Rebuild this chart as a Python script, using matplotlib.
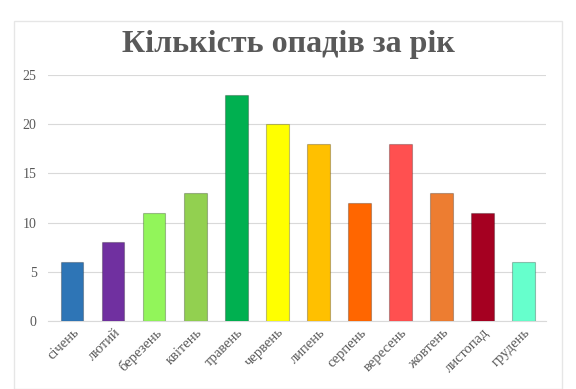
import matplotlib.pyplot as plt
from matplotlib.patches import Rectangle

months = ['січень', 'лютий', 'березень', 'квітень', 'травень', 'червень',
          'липень', 'серпень', 'вересень', 'жовтень', 'листопад', 'грудень']
values = [6, 8, 11, 13, 23, 20, 18, 12, 18, 13, 11, 6]
colors = ['#2E75B6', '#7030A0', '#92F55A', '#92D050', '#00B050', '#FFFF00',
          '#FFC000', '#FF6600', '#FF5050', '#ED7D31', '#A50021', '#66FFCC']
yticks = [0, 5, 10, 15, 20, 25]

plt.rcParams['font.family'] = ['Liberation Serif', 'DejaVu Serif']

fig = plt.figure(figsize=(5.76, 3.89), dpi=100)
# рамка навколо діаграми
fig.patches.append(Rectangle((14 / 576, 0), 548 / 576, 1 - 21 / 389,
                             transform=fig.transFigure, fill=False,
                             edgecolor='#E6E6E6', linewidth=1))

ax = fig.add_axes([0.083, 0.175, 0.865, 0.632])
x = range(len(months))
bars = ax.bar(x, values, width=0.54, color=colors, linewidth=0.8, zorder=3)
for p in bars:
    p.set_edgecolor((0, 0, 0, 0.25))

ax.set_xlim(-0.6, 11.55)
ax.set_ylim(0, 25)
ax.set_yticks(yticks)
ax.yaxis.grid(True, color='#D9D9D9', linewidth=0.8, zorder=0)
ax.set_axisbelow(True)
for s in ['top', 'right', 'left']:
    ax.spines[s].set_visible(False)
ax.spines['bottom'].set_color('#D9D9D9')
ax.tick_params(axis='both', length=0, colors='#595959', labelsize=10)
ax.tick_params(axis='y', pad=8)
ax.set_xticks(list(x))
ax.set_xticklabels(months, rotation=45, ha='right', rotation_mode='anchor',
                   fontsize=10.5)

fig.text(0.5, 0.886, 'Кількість опадів за рік', ha='center', va='center',
         fontsize=23, fontweight='bold', color='#595959')

fig.savefig('out.png', dpi=100)
plt.close(fig)
